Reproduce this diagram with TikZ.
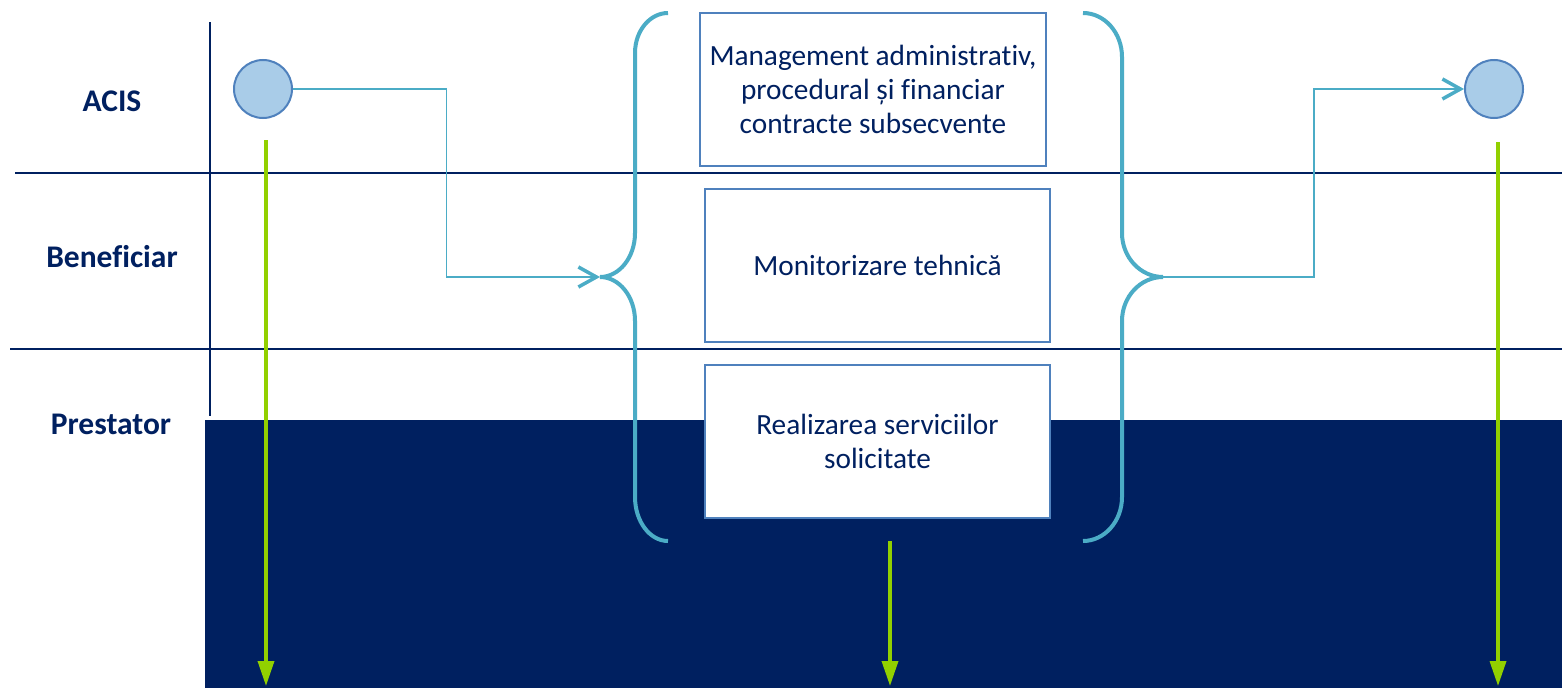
\documentclass[tikz,border=0pt]{standalone}
\usepackage{fontspec}
\setmainfont{Carlito}[Ligatures=NoCommon]
\usetikzlibrary{arrows.meta}
\definecolor{navy}{RGB}{0,32,96}
\definecolor{bracecol}{RGB}{75,172,198}
\definecolor{boxline}{RGB}{79,129,189}
\definecolor{circfill}{RGB}{169,204,232}
\definecolor{greenar}{RGB}{146,208,0}
\tikzset{
  lane/.style={draw=navy, line width=2.5pt},
  lanelabel/.style={text=navy, font=\bfseries\fontsize{31.5}{36}\selectfont, inner sep=0pt},
  taskbox/.style={draw=boxline, line width=2pt, fill=white, text=navy, align=center,
    font=\fontsize{29.3}{34}\selectfont, minimum width=345pt, minimum height=153pt, inner sep=0pt},
  event/.style={circle, draw=boxline, fill=circfill, line width=2pt, minimum size=58pt, inner sep=0pt},
  flow/.style={draw=bracecol, line width=1.6pt, -{Straight Barb[length=18pt,width=20pt,line width=3.5pt]}},
  bracepath/.style={draw=bracecol, line width=4pt},
  timeline/.style={draw=greenar, line width=3.5pt, -{Triangle[length=25pt,width=16pt]}}
}
\begin{document}
\begin{tikzpicture}[x=1pt,y=-1pt]
\useasboundingbox (0,0) rectangle (1562,688);
\fill[white] (0,0) rectangle (1562,688);
% dark band
\fill[navy] (205,420) rectangle (1562,688);
% lanes
\draw[lane] (210,22) -- (210,416);
\draw[lane] (15,173) -- (1562,173);
\draw[lane] (10,349) -- (1562,349);
% lane labels
\node[lanelabel] (lacis) at (112,101) {ACIS};
\node[lanelabel] (lben) at (112,257) {Beneficiar};
\node[lanelabel] (lprest) at (111,424) {Prestator};
% braces
\coordinate (ltip) at (600,277);
\coordinate (rtip) at (1163,277);
\draw[bracepath] (668,13) .. controls (649.8,13) and (635,30.9) .. (635,53)
  -- (635,233) .. controls (635,257.3) and (619.3,277) .. (ltip)
  .. controls (619.3,277) and (635,296.7) .. (635,321)
  -- (635,497) .. controls (635,521.3) and (649.8,541) .. (668,541);
\draw[bracepath] (1083,13) .. controls (1104.5,13) and (1122,32.7) .. (1122,57)
  -- (1122,233) .. controls (1122,257.3) and (1140.4,277) .. (rtip)
  .. controls (1140.4,277) and (1122,296.7) .. (1122,321)
  -- (1122,497) .. controls (1122,521.3) and (1104.5,541) .. (1083,541);
% task boxes
\node[taskbox, minimum width=346pt] (b1) at (873,89.5) {Management administrativ,\\procedural și financiar\\contracte subsecvente};
\node[taskbox] (b2) at (877.5,265.5) {Monitorizare tehnică};
\node[taskbox] (b3) at (877.5,441.5) {Realizarea serviciilor\\solicitate};
% events
\node[event] (c1) at (263,89) {};
\node[event] (c2) at (1494,89) {};
% flows
\coordinate (j1) at (446.5,277);
\coordinate (j2) at (1314,89);
\draw[flow] (c1.east) -| (j1) -- (ltip);
\draw[flow] (rtip) -| (j2) -- (c2.west);
% timelines
\coordinate (g1s) at (266,140);
\coordinate (g1e) at (266,686);
\coordinate (g2s) at (890,541);
\coordinate (g2e) at (890,686);
\coordinate (g3s) at (1498,142);
\coordinate (g3e) at (1498,686);
\draw[timeline] (g1s) -- (g1e);
\draw[timeline] (g2s) -- (g2e);
\draw[timeline] (g3s) -- (g3e);
\end{tikzpicture}
\end{document}
